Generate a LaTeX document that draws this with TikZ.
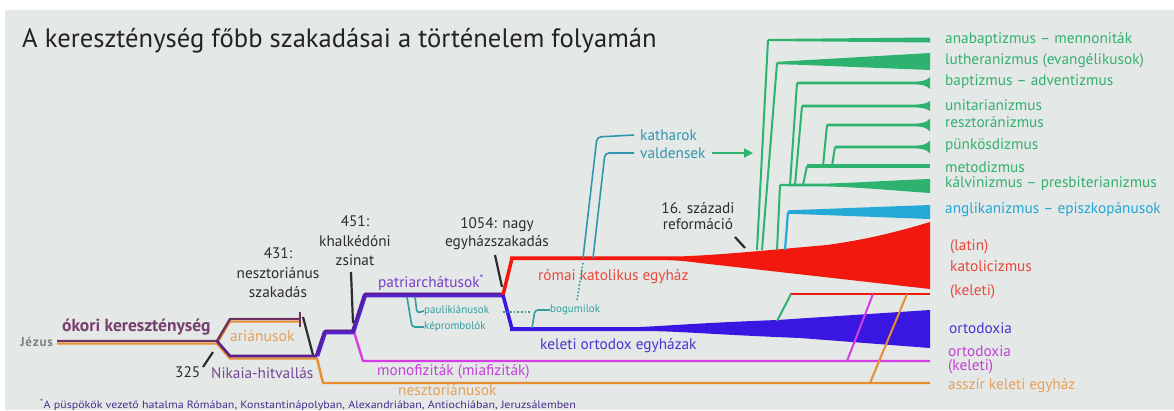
\documentclass[tikz,border=0pt]{standalone}
\usepackage{fontspec}
\setmainfont{PT Sans}
\usetikzlibrary{arrows.meta}
\definecolor{bgc}{RGB}{228,232,230}
\definecolor{titlec}{RGB}{35,35,35}
\definecolor{grn}{RGB}{46,178,112}
\definecolor{grntxt}{RGB}{52,176,112}
\definecolor{tealc}{RGB}{48,158,160}
\definecolor{tealb}{RGB}{50,150,175}
\definecolor{angl}{RGB}{36,168,214}
\definecolor{redc}{RGB}{242,24,14}
\definecolor{redtxt}{RGB}{232,72,60}
\definecolor{bluec}{RGB}{58,22,226}
\definecolor{bluetxt}{RGB}{72,52,210}
\definecolor{magc}{RGB}{212,62,228}
\definecolor{magtxt}{RGB}{196,64,214}
\definecolor{orc}{RGB}{232,142,48}
\definecolor{ortxt}{RGB}{230,160,90}
\definecolor{violc}{RGB}{84,34,206}
\definecolor{violdk}{RGB}{92,28,140}
\definecolor{brwn}{RGB}{110,50,95}
\definecolor{oldtxt}{RGB}{120,62,110}
\definecolor{pattxt}{RGB}{122,60,200}
\definecolor{nikc}{RGB}{120,70,150}
\definecolor{lbl}{RGB}{45,45,45}
\definecolor{foot}{RGB}{72,45,140}
\newcommand{\flarebr}[3]{%
  \fill[grn] (#1,#2-1.3) -- (910,#2-1.3) .. controls (924,#2-1.3) and (927,#2-3) .. (930,#2-#3)
    -- (930,#2+#3) .. controls (927,#2+3) and (924,#2+1.3) .. (910,#2+1.3) -- (#1,#2+1.3) -- cycle;}
\tikzset{
  rlabel/.style={anchor=west, inner sep=0pt, font=\fontsize{15.3}{17}\selectfont},
  clabel/.style={align=center, inner sep=0pt, text=lbl, font=\fontsize{15.3}{19.5}\selectfont},
  smalllbl/.style={anchor=west, inner sep=0pt, text=tealc, font=\fontsize{11}{12}\selectfont},
  tick/.style={draw=lbl, line width=2.2pt},
  vbr/.style={draw=grn, line width=2pt},
  thinlink/.style={draw=tealc, line width=1.6pt, rounded corners=3pt},
}
\begin{document}
\begin{tikzpicture}[x=1pt,y=-1pt]
\useasboundingbox (0,0) rectangle (1174,410);
\fill[white] (0,0) rectangle (1174,410);
\fill[bgc] (5,10) rectangle (1174,410);

% title
\node[anchor=west, inner sep=0pt, text=titlec, font=\fontsize{26.6}{30}\selectfont] (title) at (22,41) {A kereszténység főbb szakadásai a történelem folyamán};

% ---------- trunk ----------
\draw[orc, line width=2pt, line join=round] (57,343.5) -- (217,343.5) -- (230,321.5) -- (300,321.5);
\draw[orc, line width=2.4pt, line join=round] (217,343.5) -- (230,358.5) -- (317,358.5) -- (323,383) -- (930,383);
\draw[brwn, line width=2.4pt, line join=round] (57,341) -- (217,341) -- (230,319) -- (300,319);
\draw[brwn, line width=2pt] (300,312) -- (300,327);
\draw[violdk, line width=2.6pt, line join=round] (217,341) -- (230,356) -- (317,356);
% magenta monophysite
\draw[magc, line width=2.4pt, line join=round] (354,332) -- (363,361) -- (930,361);
% violet main
\draw[violc, line width=4.5pt, line join=round] (317,356) -- (325,332) -- (353,332) -- (365,295) -- (503,295);
\draw[violdk, line width=1.6pt, line join=round] (317,354.5) -- (325,330.5) -- (353,330.5) -- (365,293.5) -- (503,293.5);

% ---------- 1054 split ----------
\draw[redc, line width=3.5pt, line join=round] (503,295) -- (512,258.2);
\draw[bluec, line width=3.5pt, line join=round] (503,295) -- (512,329);
\fill[redc] (510,256.4) -- (680,256.4) .. controls (720,255) and (770,250) .. (827,245) .. controls (870,239) and (900,231) .. (930,222)
  -- (930,289) -- (700,263) .. controls (685,261) and (675,260.1) .. (660,260.1) -- (510,260.1) -- cycle;
\fill[bluec] (510,327) -- (640,327) .. controls (680,325) and (700,323) .. (777,320) -- (930,310)
  -- (930,348) -- (800,338) .. controls (700,334) and (680,331) .. (640,331) -- (510,331) -- cycle;

% eastern catholic links
\draw[redc, line width=2.4pt] (790,294) -- (930,294);
\draw[grn, line width=2pt] (777,321) -- (791,294);
\draw[magc, line width=2pt] (847,361) -- (873,294);
\draw[orc, line width=2pt] (870,383) -- (907,294);

% ---------- protestant branches ----------
\flarebr{797}{83}{6}
\flarebr{802}{106}{5}
\flarebr{827}{125}{6.5}
\flarebr{835}{147}{6.5}
\fill[grn] (768,39) -- (930,37.5) -- (930,42.5) -- (768,41) -- cycle;
\fill[grn] (777,61.8) -- (800,60.5) -- (930,53) -- (930,70) -- (800,64.8) -- (777,64.2) -- cycle;
\fill[grn] (807,164.3) -- (930,164.3) -- (930,168.3) -- (807,168.3) -- cycle;
\fill[grn] (780,183.8) -- (830,183.5) .. controls (870,182) and (900,180) .. (930,179) -- (930,193) .. controls (900,191) and (870,188) .. (830,186.5) -- (780,186.2) -- cycle;
\fill[angl] (788,210.3) -- (930,205) -- (930,219) -- (788,213.7) -- cycle;
% verticals
\draw[vbr] (757,250) -- (768,40);
\draw[vbr] (762,250) -- (777,63);
\draw[vbr] (790,185) -- (797,83);
\draw[vbr] (795,185) -- (802,106);
\draw[vbr] (823,166) -- (827,125);
\draw[vbr] (832,166) -- (835,147);
\draw[vbr] (803,185) -- (807,166);
\draw[vbr] (777,250) -- (780,185);
\draw[angl, line width=2.2pt] (785,250) -- (788,212);

% ---------- labels left ----------
\node[anchor=east, inner sep=0pt, text=gray, font=\fontsize{13}{14}\selectfont\bfseries\addfontfeature{LetterSpace=6}] (jezus) at (53,342) {Jézus};
\node[anchor=west, inner sep=0pt, text=oldtxt, font=\fontsize{17.5}{19}\selectfont\bfseries] (okori) at (62,327) {ókori kereszténység};
\node[rlabel, text=ortxt, font=\fontsize{15.6}{17}\selectfont] (arian) at (230,336) {ariánusok};
\node[rlabel, text=lbl] (n325) at (175,372) {325};
\node[rlabel, text=nikc] (nikaia) at (211,373) {Nikaia-hitvallás};
\node[clabel] (n431) at (278,273) {431:\\nesztoriánus\\szakadás};
\node[clabel] (n451) at (355,241) {451:\\khalkédóni\\zsinat};
\node[clabel, font=\fontsize{15.3}{18}\selectfont] (n1054) at (497,234) {1054: nagy\\egyházszakadás};
\node[clabel, font=\fontsize{15.3}{16}\selectfont] (n16) at (698,216) {16. századi\\reformáció};
\node[rlabel, text=pattxt] (patr) at (378,283) {patriarchátusok\textsuperscript{*}};
\node[smalllbl] (paul) at (424,311) {paulikiánusok};
\node[smalllbl] (kep) at (424,327) {képrombolók};
\node[smalllbl] (bogu) at (550,310) {bogumilok};
\node[rlabel, text=redtxt] (romkat) at (538,277) {római katolikus egyház};
\node[rlabel, text=bluetxt] (keletort) at (540,346) {keleti ortodox egyházak};
\node[rlabel, text=magtxt] (monof) at (377,372) {monofiziták (miafiziták)};
\node[rlabel, text=ortxt] (neszt) at (398,390.5) {nesztoriánusok};
\node[rlabel, text=tealb] (kathar) at (640,135) {katharok};
\node[rlabel, text=tealb] (vald) at (640,153) {valdensek};
\node[anchor=west, inner sep=0pt, text=foot, font=\fontsize{10.6}{12}\selectfont\addfontfeature{FakeStretch=1.13}] (footn) at (40,404.6) {\textsuperscript{*}A püspökök vezető hatalma Rómában, Konstantinápolyban, Alexandriában, Antiochiában, Jeruzsálemben};

% ticks
\draw[tick] (203,367) -- (213,352);
\draw[tick] (303,317) -- (313,355);
\draw[tick] (351,272) -- (353,323);
\draw[tick] (495,255) -- (502,287);
\draw[tick] (735,237) -- (745,248);

% teal links
\draw[thinlink] (415,297) -- (417,313) -- (paul.west);
\draw[thinlink] (407,297) -- (412,327) -- (kep.west);
\draw[thinlink] (532,328) -- (535,310) -- (bogu.west);
\draw[tealc, line width=1.6pt, dotted] (503,312) -- (530,312);
\draw[tealc, line width=1.6pt, dotted] (583,263) -- (577,300);
\coordinate (kj) at (583,258);
\coordinate (vj) at (593,258);
\draw[draw=tealb, line width=1.6pt, rounded corners=4pt] (kj) -- (597,137) -- ([xshift=-6pt]kathar.west);
\draw[draw=tealb, line width=1.6pt, rounded corners=4pt] (vj) -- (605,153) -- ([xshift=-6pt]vald.west);
\coordinate (arrend) at (753,153);
\draw[grn, line width=2pt, -{Triangle[length=9pt,width=9pt]}] ([xshift=6pt]vald.east) -- (arrend);

% ---------- right labels ----------
\node[rlabel, text=grntxt] (l1) at (945,40) {anabaptizmus – mennoniták};
\node[rlabel, text=grntxt] (l2) at (945,61) {lutheranizmus (evangélikusok)};
\node[rlabel, text=grntxt] (l3) at (945,82) {baptizmus – adventizmus};
\node[rlabel, text=grntxt] (l4) at (945,105) {unitarianizmus};
\node[rlabel, text=grntxt] (l5) at (945,122) {resztoránizmus};
\node[rlabel, text=grntxt] (l6) at (945,146) {pünkösdizmus};
\node[rlabel, text=grntxt] (l7) at (945,167) {metodizmus};
\node[rlabel, text=grntxt] (l8) at (945,184) {kálvinizmus – presbiterianizmus};
\node[rlabel, text=angl] (l9) at (945,210) {anglikanizmus – episzkopánusok};
\node[rlabel, text=redtxt] (latin) at (950,247) {(latin)};
\node[rlabel, text=redtxt] (katol) at (950,266) {katolicizmus};
\node[rlabel, text=redtxt] (kelkat) at (950,292) {(keleti)};
\node[rlabel, text=bluetxt] (ort1) at (949,328) {ortodoxia};
\node[rlabel, text=magtxt] (ort2) at (948,351) {ortodoxia};
\node[rlabel, text=magtxt] (kel2) at (948,367) {(keleti)};
\node[rlabel, text=ortxt] (asszir) at (948,386) {asszír keleti egyház};
\end{tikzpicture}
\end{document}
